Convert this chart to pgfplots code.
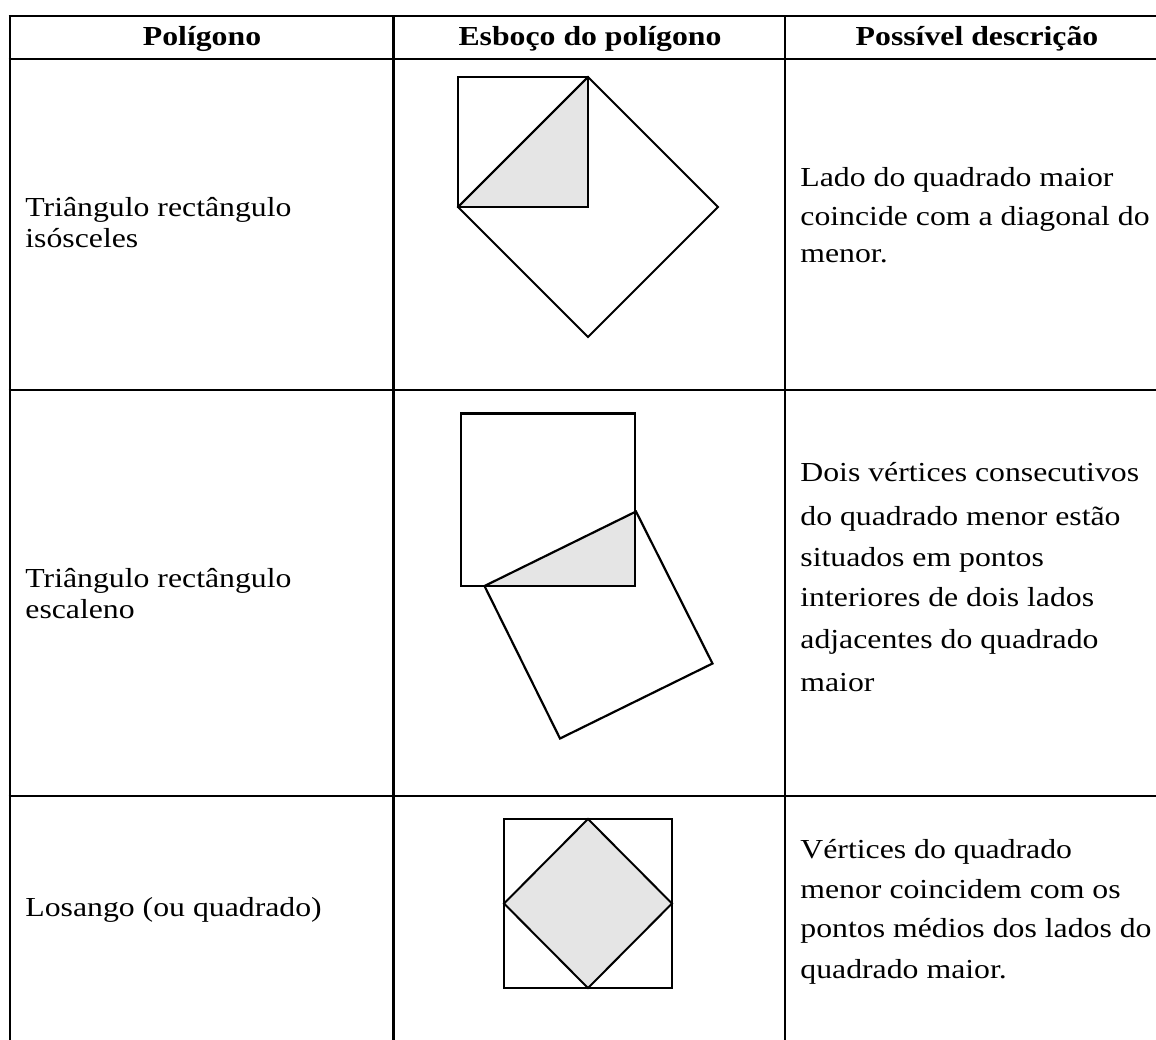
\documentclass[border=0pt]{standalone}
\usepackage{fontspec}
\setmainfont{Liberation Serif}
\usepackage{graphicx}
\usepackage{pgfplots}
\pgfplotsset{compat=1.18}
\definecolor{shade}{RGB}{229,229,229}
\newcommand{\tx}[1]{\scalebox{1.155}[1]{#1}}
\begin{document}
\begin{tikzpicture}[every node/.style={font=\fontsize{13.75pt}{16pt}\selectfont, inner sep=0pt}]
\begin{axis}[
  width=578pt, height=519.5pt, scale only axis,
  xmin=0, xmax=1156, ymin=0, ymax=1039, y dir=reverse,
  hide axis, clip=true,
]
% background
\addplot[draw=none, fill=white, forget plot] coordinates {(0,0) (1156,0) (1156,1039) (0,1039)} --cycle;

% table grid
\addplot[black, line width=1.4pt, forget plot] coordinates {(8.5,16) (1160,16)};
\addplot[black, line width=1.4pt, forget plot] coordinates {(8.5,59) (1160,59)};
\addplot[black, line width=1.4pt, forget plot] coordinates {(8.5,390) (1160,390)};
\addplot[black, line width=1.4pt, forget plot] coordinates {(8.5,796) (1160,796)};
\addplot[black, line width=1.4pt, forget plot] coordinates {(10,15) (10,1045)};
\addplot[black, line width=1.2pt, forget plot] coordinates {(393.5,16) (393.5,1045)};
\addplot[black, line width=1.2pt, forget plot] coordinates {(785,16) (785,1045)};

% row 1 sketch
\addplot[draw=none, fill=shade, forget plot] coordinates {(458,207) (588,77) (588,207)} --cycle;
\addplot[black, line width=0.9pt, forget plot] coordinates {(458,77) (588,77) (588,207) (458,207)} --cycle;
\addplot[black, line width=0.9pt, forget plot] coordinates {(458,207) (588,77)};
\addplot[black, line width=0.9pt, forget plot] coordinates {(588,77) (718,207) (588,337) (458,207)} --cycle;

% row 2 sketch
\addplot[draw=none, fill=shade, forget plot] coordinates {(484.5,586) (635,511.5) (635,586)} --cycle;
\addplot[black, line width=1.1pt, forget plot] coordinates {(461,413.5) (635,413.5) (635,586) (461,586)} --cycle;
\addplot[black, line width=1.1pt, forget plot] coordinates {(484.5,586) (636,511.5) (712.5,663.5) (560,738.5)} --cycle;

% row 3 sketch
\addplot[draw=none, fill=shade, forget plot] coordinates {(588,819) (672,903.5) (588,988) (504,903.5)} --cycle;
\addplot[black, line width=1pt, forget plot] coordinates {(504,819) (672,819) (672,988) (504,988)} --cycle;
\addplot[black, line width=1pt, forget plot] coordinates {(588,819) (672,903.5) (588,988) (504,903.5)} --cycle;

% header
\node[anchor=base] at (axis cs:202,45) {\tx{\bfseries Polígono}};
\node[anchor=base] at (axis cs:590,45) {\tx{\bfseries Esboço do polígono}};
\node[anchor=base] at (axis cs:977,45) {\tx{\bfseries Possível descrição}};

% column 1
\node[anchor=base west] at (axis cs:25,216.7) {\tx{Triângulo rectângulo}};
\node[anchor=base west] at (axis cs:25,247.5) {\tx{isósceles}};
\node[anchor=base west] at (axis cs:25,587) {\tx{Triângulo rectângulo}};
\node[anchor=base west] at (axis cs:25,618) {\tx{escaleno}};
\node[anchor=base west] at (axis cs:25,916) {\tx{Losango (ou quadrado)}};

% column 3
\node[anchor=base west] at (axis cs:800,186.7) {\tx{Lado do quadrado maior}};
\node[anchor=base west] at (axis cs:800,225) {\tx{coincide com a diagonal do}};
\node[anchor=base west] at (axis cs:800,262) {\tx{menor.}};

\node[anchor=base west] at (axis cs:800,481.7) {\tx{Dois vértices consecutivos}};
\node[anchor=base west] at (axis cs:800,525) {\tx{do quadrado menor estão}};
\node[anchor=base west] at (axis cs:800,566.7) {\tx{situados em pontos}};
\node[anchor=base west] at (axis cs:800,606.7) {\tx{interiores de dois lados}};
\node[anchor=base west] at (axis cs:800,648) {\tx{adjacentes do quadrado}};
\node[anchor=base west] at (axis cs:800,691.7) {\tx{maior}};

\node[anchor=base west] at (axis cs:800,858) {\tx{Vértices do quadrado}};
\node[anchor=base west] at (axis cs:800,898) {\tx{menor coincidem com os}};
\node[anchor=base west] at (axis cs:800,937.5) {\tx{pontos médios dos lados do}};
\node[anchor=base west] at (axis cs:800,978) {\tx{quadrado maior.}};
\end{axis}
\end{tikzpicture}
\end{document}
